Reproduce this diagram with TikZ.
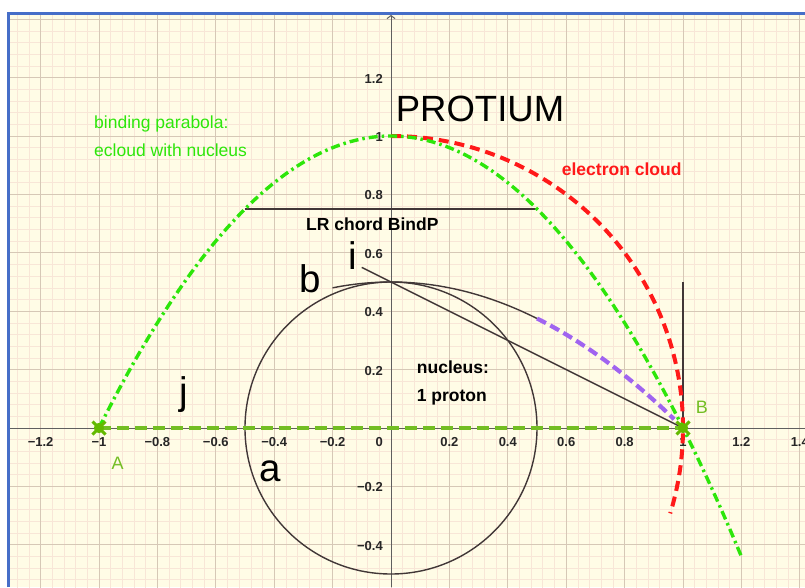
\documentclass[tikz,border=0pt]{standalone}
\usepackage{fontspec}
\setmainfont{Liberation Sans}
\usetikzlibrary{arrows.meta}
\definecolor{bgc}{RGB}{255,252,230}
\definecolor{minorc}{RGB}{248,230,215}
\definecolor{majorc}{RGB}{214,200,182}
\definecolor{axisc}{RGB}{95,95,95}
\definecolor{framec}{RGB}{70,110,200}
\definecolor{limec}{RGB}{45,230,10}
\definecolor{redc}{RGB}{255,25,25}
\definecolor{purc}{RGB}{160,100,240}
\definecolor{olivec}{RGB}{115,190,35}
\definecolor{ptc}{RGB}{100,185,0}
\definecolor{darkc}{RGB}{65,55,55}
\begin{document}
\begin{tikzpicture}[x=292pt,y=292pt,
  geo/.style={draw=darkc, line width=1.4pt},
  bind/.style={draw=limec, line width=3.4pt, dash pattern=on 9pt off 4pt on 2.5pt off 4pt},
  ecl/.style={draw=redc, line width=4pt, dash pattern=on 10pt off 6pt},
  purp/.style={draw=purc, line width=4.2pt, dash pattern=on 10pt off 5pt},
  abseg/.style={draw=olivec, line width=4pt, dash pattern=on 12pt off 6pt},
  ptnode/.style={circle, fill=ptc, minimum size=10pt, inner sep=0pt},
  ptx/.style={draw=ptc, line width=3pt},
  ticklbl/.style={font=\fontsize{13}{15}\selectfont\bfseries, text=black!85, inner sep=0pt},
  big/.style={font=\fontsize{38.5}{44}\selectfont, inner sep=0pt, text=black},
  lbl/.style={font=\fontsize{17.5}{21}\selectfont, inner sep=0pt}]
\useasboundingbox (-391pt,-159pt) rectangle (414pt,428pt);
\fill[white] (-391pt,-159pt) rectangle (414pt,428pt);
\fill[bgc] (-381pt,-159pt) rectangle (414pt,414pt);
\begin{scope}
\clip (-381pt,-159pt) rectangle (414pt,413.5pt);
\draw[minorc, line width=0.7pt, step=0.04] (-1.4,-0.6) grid (1.44,1.44);
\draw[majorc, line width=1pt, step=0.2] (-1.4,-0.6) grid (1.44,1.44);
\end{scope}
\draw[framec, line width=2.5pt] (-382.5pt,-159pt) -- (-382.5pt,414.5pt) -- (414pt,414.5pt);
% axes
\draw[axisc, line width=1pt] (-381pt,0) -- (414pt,0);
\draw[axisc, line width=1pt, -{Straight Barb[length=3pt,width=8pt]}] (0,-159pt) -- (0,413pt);
% tick labels
\foreach \v/\t [count=\k] in {-1.2/−1.2, -1/−1, -0.8/−0.8, -0.6/−0.6, -0.4/−0.4, -0.2/−0.2, 0.2/0.2, 0.4/0.4, 0.6/0.6, 0.8/0.8, 1/1, 1.2/1.2, 1.4/1.4}
  \node[ticklbl, anchor=base, yshift=-18pt] (xl\k) at (\v,0) {\t};
\foreach \v/\t [count=\k] in {1.2/1.2, 1/1, 0.8/0.8, 0.6/0.6, 0.4/0.4, 0.2/0.2, -0.2/−0.2, -0.4/−0.4}
  \node[ticklbl, anchor=base east, xshift=-8pt, yshift=-5.5pt] (yl\k) at (0,\v) {\t};
\node[ticklbl, anchor=base east, xshift=-8pt, yshift=-18pt] (zl) at (0,0) {0};
% points
\node[ptnode] (A) at (-1,0) {};
\node[ptnode] (B) at (1,0) {};
\coordinate (I1) at (-0.1,0.55);
\coordinate (V) at (1,0.5);
\coordinate (CL) at (-0.5,0.75);
\coordinate (CR) at (0.5,0.75);
% nucleus circle a
\draw[geo] (0,0) circle[radius=0.5];
% curve b
\draw[geo] plot[domain=-0.2:0.5, samples=60, smooth] (\x,{0.5*(1-(\x)*(\x))});
% line i
\draw[geo] (I1) -- (B.center);
% LR chord
\draw[geo] (CL) -- (CR);
% vertical at B
\draw[geo] (B.center) -- (V);
% electron cloud
\draw[ecl] (0,1) arc[start angle=90, end angle=-17, radius=1];
% binding parabola
\draw[bind] plot[domain=-1:1.2, samples=120, smooth] (\x,{1-(\x)*(\x)});
% purple
\draw[purp] plot[domain=0.5:0.97, samples=40, smooth] (\x,{0.5*(1-(\x)*(\x))});
% segment j
\draw[abseg] (A.center) -- (B.center);
% point crosses
\foreach \p in {A,B}{
  \draw[ptx] ([shift={(-6.5pt,-6.5pt)}]\p.center) -- ([shift={(6.5pt,6.5pt)}]\p.center);
  \draw[ptx] ([shift={(-6.5pt,6.5pt)}]\p.center) -- ([shift={(6.5pt,-6.5pt)}]\p.center);
}
\node[ptnode] at (A) {};
\node[ptnode] at (B) {};
% labels
\node[font=\fontsize{36.5}{42}\selectfont, inner sep=0pt, anchor=base west] (title) at (0.016,1.049) {PROTIUM};
\node[lbl, text=limec, anchor=base west] (bp1) at (-1.017,1.024) {binding parabola:};
\node[lbl, text=limec, anchor=base west] (bp2) at (-1.017,0.930) {ecloud with nucleus};
\node[lbl, font=\fontsize{17.5}{21}\selectfont\bfseries, text=redc, anchor=base west] (ecl) at (0.5845,0.866) {electron cloud};
\node[lbl, font=\fontsize{17.5}{21}\selectfont\bfseries, anchor=base west] (chord) at (-0.291,0.6747) {LR chord BindP};
\node[lbl, font=\fontsize{17.5}{21}\selectfont\bfseries, anchor=base west] (nuc1) at (0.088,0.185) {nucleus:};
\node[lbl, font=\fontsize{17.5}{21}\selectfont\bfseries, anchor=base west] (nuc2) at (0.088,0.0908) {1 proton};
\node[big, anchor=base] (lj) at (-0.7106,0.0805) {j};
\node[big, anchor=base] (la) at (-0.4127,-0.1815) {a};
\node[big, anchor=base] (lb) at (-0.2757,0.4647) {b};
\node[big, anchor=base] (li) at (-0.130,0.5445) {i};
\node[lbl, font=\fontsize{18}{21}\selectfont, text=olivec, anchor=base] (lA) at (-0.9366,-0.1414) {A};
\node[lbl, font=\fontsize{18}{21}\selectfont, text=olivec, anchor=base] (lB) at (1.065,0.0503) {B};
\end{tikzpicture}
\end{document}
